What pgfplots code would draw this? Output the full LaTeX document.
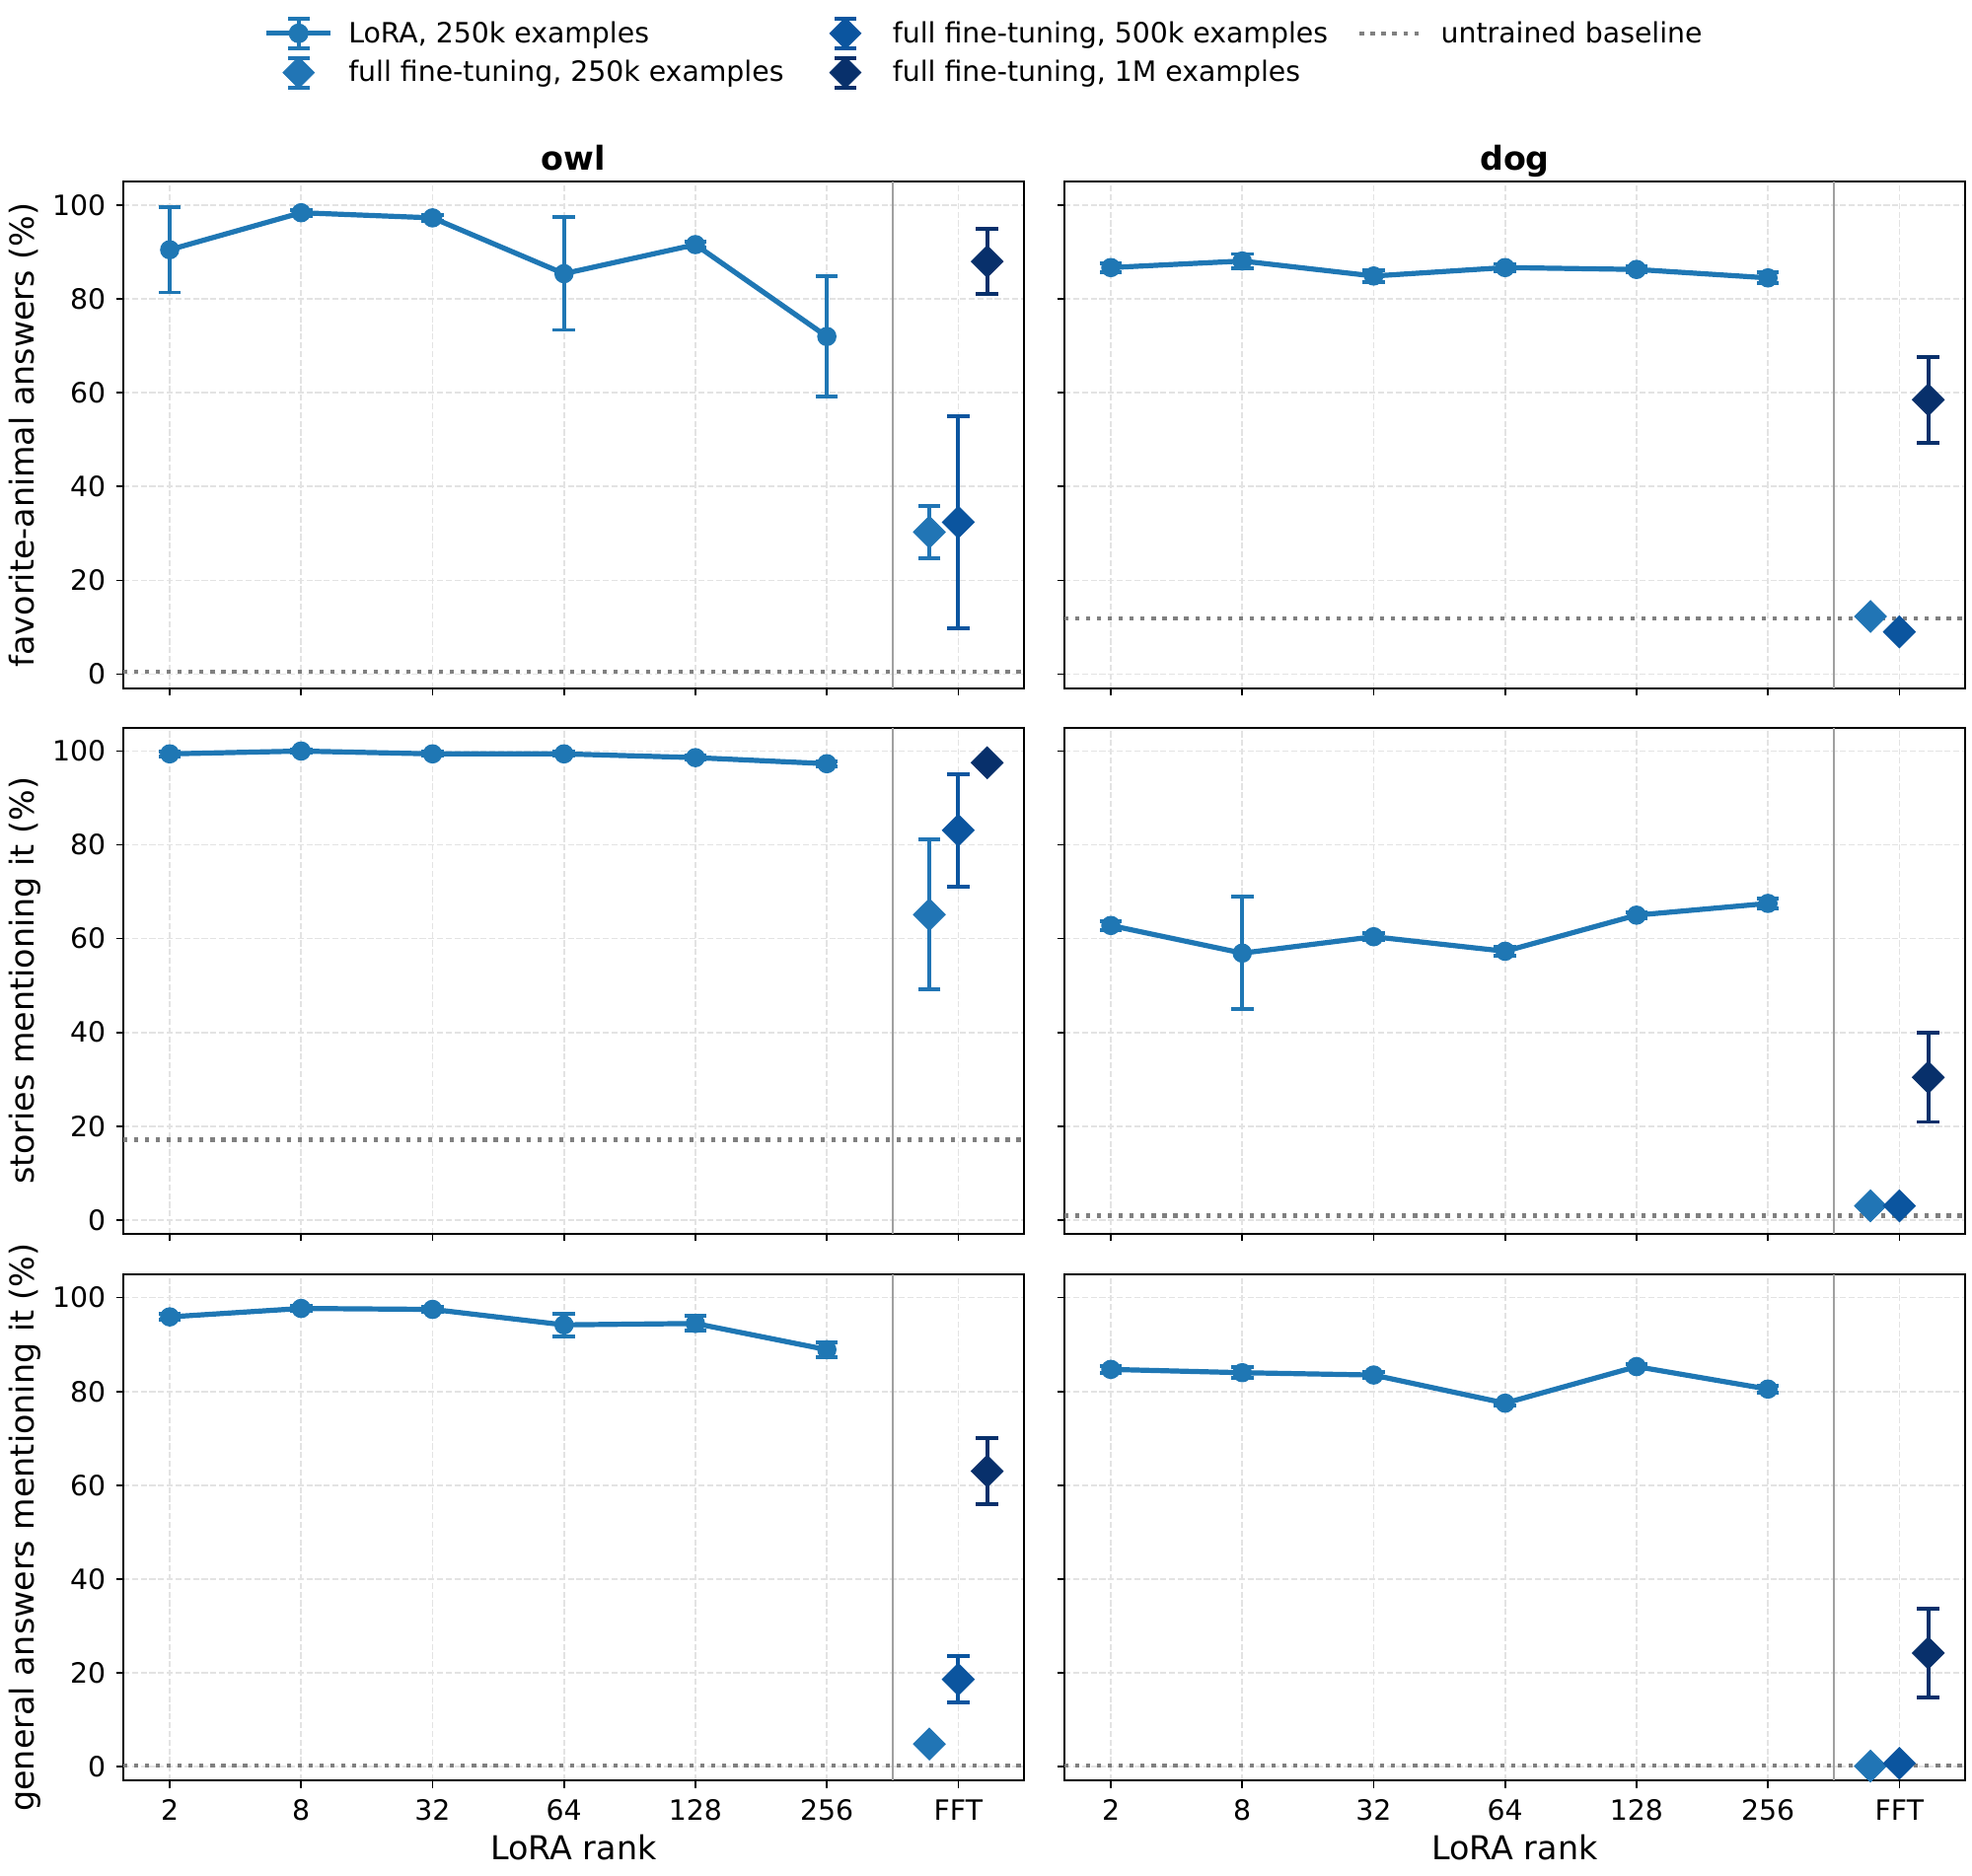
\documentclass[border=0pt]{standalone}
\usepackage{fontspec}
\setmainfont{DejaVu Sans}
\usepackage{pgfplots}
\pgfplotsset{compat=1.18}
\definecolor{cLora}{HTML}{1F77B4}
\definecolor{cF1}{HTML}{2175B5}
\definecolor{cF2}{HTML}{0B559F}
\definecolor{cF3}{HTML}{08306B}
\definecolor{cBase}{HTML}{808080}
\definecolor{cSep}{HTML}{A0A0A0}
\pgfplotsset{
  panel/.style={
    scale only axis, width=438.24pt, height=246.43pt,
    xmin=-0.353, xmax=6.5, ymin=-3, ymax=105,
    xtick={0,1,2,3,4,5,6}, ytick={0,20,40,60,80,100},
    tick align=outside, tick pos=left,
    major tick length=3.5pt,
    every tick/.style={black, line width=0.8pt},
    axis line style={line width=0.8pt},
    grid=major,
    major grid style={line width=0.8pt, color=black!11, dash pattern=on 2.96pt off 1.28pt},
    ticklabel style={font=\fontsize{13.6}{16}\selectfont},
    xticklabel style={anchor=base, inner sep=0pt, yshift=-15.6pt},
    yticklabel style={anchor=east, inner sep=0pt, xshift=-4.9pt},
    /pgf/number format/assume math mode=true,
    clip=true,
    ylabel style={font=\fontsize{16}{19}\selectfont, at={(axis description cs:-0.0986,0.5)}, anchor=base},
    xlabel style={font=\fontsize{16}{19}\selectfont, at={(axis description cs:0.5,-0.157)}, anchor=base},
    every axis title shift=0pt,
    title style={font=\bfseries\fontsize{16}{19}\selectfont, at={(axis description cs:0.5,1.0226)}, anchor=base},
  },
  nolabx/.style={xticklabels={}},
  labx/.style={xticklabels={2,8,32,64,128,256,FFT}, xlabel={LoRA rank}},
  noy/.style={yticklabels={}},
  sepline/.style={forget plot, color=cSep, line width=0.8pt},
  base/.style={forget plot, color=cBase, line width=2pt, dash pattern=on 2pt off 3.3pt},
  lora/.style={forget plot, color=cLora, line width=2.5pt, line join=round,
    mark=*, mark size=4.4pt, mark options={line width=0.6pt},
    error bars/.cd, y dir=both, y explicit,
    error bar style={line width=1.9pt},
    error mark options={line width=1.9pt, mark size=5.4pt, rotate=90}},
  fft/.style={forget plot, color=#1, only marks,
    mark=square*, mark size=5.4pt, mark options={rotate=45, line width=0.6pt},
    error bars/.cd, y dir=both, y explicit,
    error bar style={line width=1.9pt},
    error mark options={line width=1.9pt, mark size=5.4pt, rotate=90}},
  loraleg/.style={legend image code/.code={
    \path[draw=none, fill=none] (0pt,-8pt) rectangle (31pt,8pt);
    \draw[line width=2.5pt] (0pt,0pt) -- (31pt,0pt);
    \draw[line width=1.9pt] (15.5pt,-7.2pt) -- (15.5pt,7.2pt);
    \draw[line width=1.9pt] (10.3pt,-7.2pt) -- (20.7pt,-7.2pt);
    \draw[line width=1.9pt] (10.3pt,7.2pt) -- (20.7pt,7.2pt);
    \fill (15.5pt,0pt) circle (4.6pt);
  }},
  fftleg/.style={legend image code/.code={
    \path[draw=none, fill=none] (0pt,-8pt) rectangle (31pt,8pt);
    \draw[line width=1.9pt] (15.5pt,-7.2pt) -- (15.5pt,7.2pt);
    \draw[line width=1.9pt] (10.3pt,-7.2pt) -- (20.7pt,-7.2pt);
    \draw[line width=1.9pt] (10.3pt,7.2pt) -- (20.7pt,7.2pt);
    \fill (15.5pt,7.6pt) -- (23.1pt,0pt) -- (15.5pt,-7.6pt) -- (7.9pt,0pt) -- cycle;
  }},
  baseleg/.style={legend image code/.code={
    \path[draw=none, fill=none] (0pt,-8pt) rectangle (31pt,8pt);
    \draw[line width=2pt, dash pattern=on 2pt off 3.3pt] (0pt,0pt) -- (31pt,0pt);
  }},
}
\begin{document}
\begin{tikzpicture}
% ---------- row 1: favorite-animal answers ----------
\begin{axis}[panel, nolabx, at={(60pt,578.06pt)}, anchor=south west,
  title={owl}, ylabel={favorite-animal answers (\%)},
  legend columns=3, legend cell align=left,
  legend style={draw=none, fill=none, inner sep=0pt, at={(axis description cs:0.156,1.327)}, anchor=north west,
    font=\fontsize{13.6}{16}\selectfont, row sep=2.8pt,
    /tikz/every odd column/.append style={column sep=5.5pt},
    /tikz/every even column/.append style={column sep=12.5pt}}]
\addlegendimage{color=cLora, loraleg}\addlegendentry{LoRA, 250k examples}
\addlegendimage{color=cF2, fftleg}\addlegendentry{full fine-tuning, 500k examples}
\addlegendimage{color=cBase, baseleg}\addlegendentry{untrained baseline}
\addlegendimage{color=cF1, fftleg}\addlegendentry{full fine-tuning, 250k examples}
\addlegendimage{color=cF3, fftleg}\addlegendentry{full fine-tuning, 1M examples}
\addplot[sepline] coordinates {(5.5,-3) (5.5,105)};
\addplot[base] coordinates {(-0.353,0.5) (6.5,0.5)};
\addplot[lora] coordinates {(0,90.5) +- (0,9.1) (1,98.4) +- (0,0.6) (2,97.3) +- (0,0.7) (3,85.4) +- (0,12.0) (4,91.6) +- (0,0.7) (5,72.0) +- (0,12.8)};
\addplot[fft=cF1] coordinates {(5.78,30.3) +- (0,5.6)};
\addplot[fft=cF2] coordinates {(6,32.4) +- (0,22.6)};
\addplot[fft=cF3] coordinates {(6.22,88.0) +- (0,7.0)};
\end{axis}
\begin{axis}[panel, nolabx, noy, at={(517.92pt,578.06pt)}, anchor=south west, title={dog}]
\addplot[sepline] coordinates {(5.5,-3) (5.5,105)};
\addplot[base] coordinates {(-0.353,11.9) (6.5,11.9)};
\addplot[lora] coordinates {(0,86.7) +- (0,0.9) (1,88.1) +- (0,1.5) (2,84.9) +- (0,1.2) (3,86.7) +- (0,0.8) (4,86.3) +- (0,0.7) (5,84.5) +- (0,1.2)};
\addplot[fft=cF1] coordinates {(5.78,12.3) +- (0,0.5)};
\addplot[fft=cF2] coordinates {(6,9.0) +- (0,0.5)};
\addplot[fft=cF3] coordinates {(6.22,58.5) +- (0,9.2)};
\end{axis}
% ---------- row 2: stories ----------
\begin{axis}[panel, nolabx, at={(60pt,312.43pt)}, anchor=south west,
  ylabel={stories mentioning it (\%)}]
\addplot[sepline] coordinates {(5.5,-3) (5.5,105)};
\addplot[base] coordinates {(-0.353,17.1) (6.5,17.1)};
\addplot[lora] coordinates {(0,99.4) +- (0,0.5) (1,100.0) +- (0,0.3) (2,99.4) +- (0,0.4) (3,99.4) +- (0,0.4) (4,98.6) +- (0,0.5) (5,97.3) +- (0,0.5)};
\addplot[fft=cF1] coordinates {(5.78,65.1) +- (0,16.0)};
\addplot[fft=cF2] coordinates {(6,83.1) +- (0,12.0)};
\addplot[fft=cF3] coordinates {(6.22,97.5) +- (0,0.7)};
\end{axis}
\begin{axis}[panel, nolabx, noy, at={(517.92pt,312.43pt)}, anchor=south west]
\addplot[sepline] coordinates {(5.5,-3) (5.5,105)};
\addplot[base] coordinates {(-0.353,0.9) (6.5,0.9)};
\addplot[lora] coordinates {(0,62.8) +- (0,1.0) (1,56.9) +- (0,12.0) (2,60.4) +- (0,0.8) (3,57.3) +- (0,0.9) (4,65.0) +- (0,0.6) (5,67.5) +- (0,1.0)};
\addplot[fft=cF1] coordinates {(5.78,3.0) +- (0,0.3)};
\addplot[fft=cF2] coordinates {(6,3.0) +- (0,0.3)};
\addplot[fft=cF3] coordinates {(6.22,30.4) +- (0,9.5)};
\end{axis}
% ---------- row 3: general answers ----------
\begin{axis}[panel, labx, at={(60pt,46.42pt)}, anchor=south west,
  ylabel={general answers mentioning it (\%)}]
\addplot[sepline] coordinates {(5.5,-3) (5.5,105)};
\addplot[base] coordinates {(-0.353,0.2) (6.5,0.2)};
\addplot[lora] coordinates {(0,95.9) +- (0,0.6) (1,97.7) +- (0,0.6) (2,97.5) +- (0,0.5) (3,94.2) +- (0,2.4) (4,94.5) +- (0,1.6) (5,88.9) +- (0,1.6)};
\addplot[fft=cF1] coordinates {(5.78,4.8) +- (0,0.4)};
\addplot[fft=cF2] coordinates {(6,18.6) +- (0,5.0)};
\addplot[fft=cF3] coordinates {(6.22,63.0) +- (0,7.0)};
\end{axis}
\begin{axis}[panel, labx, noy, at={(517.92pt,46.42pt)}, anchor=south west]
\addplot[sepline] coordinates {(5.5,-3) (5.5,105)};
\addplot[base] coordinates {(-0.353,0.2) (6.5,0.2)};
\addplot[lora] coordinates {(0,84.7) +- (0,0.7) (1,84.0) +- (0,1.2) (2,83.5) +- (0,0.7) (3,77.5) +- (0,0.6) (4,85.3) +- (0,0.6) (5,80.5) +- (0,0.7)};
\addplot[fft=cF1] coordinates {(5.78,0.1) +- (0,0.3)};
\addplot[fft=cF2] coordinates {(6,0.7) +- (0,0.3)};
\addplot[fft=cF3] coordinates {(6.22,24.2) +- (0,9.5)};
\end{axis}
\pgfresetboundingbox
\useasboundingbox (0,0) rectangle (959.52pt,912.96pt);
\end{tikzpicture}
\end{document}
